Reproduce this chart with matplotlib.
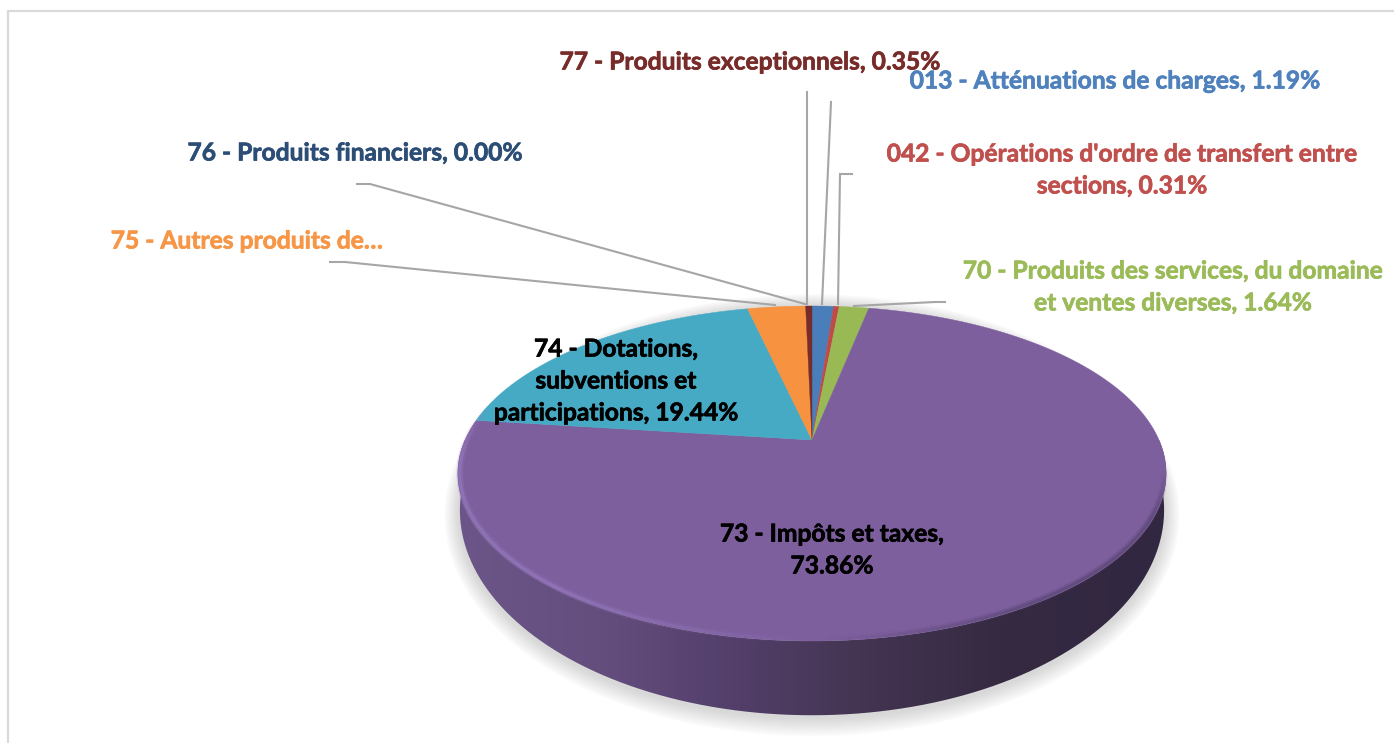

# Revenue split shown as a 3D looking pie chart (tilted disc with a side wall)

import matplotlib
matplotlib.use('Agg')
import matplotlib.pyplot as plt
import matplotlib.patheffects as pe
import numpy as np
from matplotlib.collections import LineCollection
from matplotlib.colors import to_rgb
from matplotlib.patches import Polygon, PathPatch
from matplotlib.path import Path

plt.rcParams['font.family'] = ['Lato', 'DejaVu Sans']

# Slices, clockwise from 12 o'clock
categories = ['013', '042', '70', '73', '74', '75', '76', '77']
values = [1.19, 0.31, 1.64, 73.86, 19.44, 3.21, 0.00, 0.35]
slice_colors = ['#4a7ebb', '#be4b48', '#98b954', '#7d5f9e', '#46aac5', '#f69240', '#2c4d75', '#772c2a']

# Labels
label_texts = [
    "013 - Atténuations de charges, 1.19%",
    "042 - Opérations d'ordre de transfert entre\nsections, 0.31%",
    "70 - Produits des services, du domaine\net ventes diverses, 1.64%",
    "73 - Impôts et taxes,\n73.86%",
    "74 - Dotations,\nsubventions et\nparticipations, 19.44%",
    "75 - Autres produits de…",
    "76 - Produits financiers, 0.00%",
    "77 - Produits exceptionnels, 0.35%",
]
label_pos = [(1115, 81), (1122, 170), (1173, 287), (832, 550), (616, 381), (247, 241), (355, 153), (750, 62)]
label_colors = ['#4f81bd', '#c0504d', '#9bbb59', 'black', 'black', '#f79646', '#2c4d75', '#772c2a']

# Leader lines
leaders = [
    [(831, 102), (822, 304)],
    [(852, 174), (840, 174), (838, 304)],
    [(945, 302), (935, 302), (854, 306)],
    [(330, 262), (345, 262), (775, 305)],
    [(357, 184), (370, 184), (805, 304)],
    [(807, 92), (807, 304)],
]

# Perspective of the disc
cx = 812
cy_top = 440
cy_bottom = 469
R_top = 347
R_bottom = 345
S_top = 160.8
S_bottom = 197
k = 0.2


def project(theta, R, S, cy):
    u = np.sin(theta)
    v = np.cos(theta)
    w = 1 + k * v
    return cx + R * u / w, cy - S * v / w


fig = plt.figure(figsize=(13.94, 7.43), dpi=100)
ax = fig.add_axes([0, 0, 1, 1])
ax.set_xlim(0, 1394)
ax.set_ylim(743, 0)
ax.axis('off')

# Chart frame
ax.plot([8, 8, 1394], [743, 11, 11], color='#d9d9d9', lw=1.6, zorder=1)

# Soft shadow under the disc
t = np.linspace(0, 2 * np.pi, 361)
for grow in np.arange(15, 0, -1.5):
    sx, sy = project(t, R_bottom + grow, S_bottom + grow, cy_bottom + 2)
    ax.fill(sx, sy, color='#8c8c8c', alpha=0.035, lw=0, zorder=2)

# Side wall with a horizontal gradient
front = np.linspace(np.pi / 2, 3 * np.pi / 2, 241)
x1, y1 = project(front, R_top, S_top, cy_top)
x2, y2 = project(front[::-1], R_bottom, S_bottom, cy_bottom)
wall = Path(np.column_stack([np.r_[x1, x2], np.r_[y1, y2]]))
stops = [457, 600, 740, 860, 1000, 1167]
stop_colors = np.array([to_rgb(c) for c in ['#6c5689', '#644e7e', '#523e69', '#443552', '#352a42', '#322740']])
xs = np.linspace(457, 1167, 355)
grad = np.stack([np.interp(xs, stops, stop_colors[:, i]) for i in range(3)], axis=-1)[None, :, :]
img = ax.imshow(grad, extent=[457, 1167, 720, 430], aspect='auto', zorder=3, interpolation='bilinear')
img.set_clip_path(PathPatch(wall, transform=ax.transData))
ax.set_xlim(0, 1394)
ax.set_ylim(743, 0)

# Top face, slices come from the values
edges = np.r_[0, np.cumsum(values)] / np.sum(values) * 2 * np.pi
for i in range(len(values)):
    if values[i] == 0:
        continue
    a = np.linspace(edges[i], edges[i + 1], max(3, int(values[i] * 8)))
    px, py = project(a, R_top, S_top, cy_top)
    pts = np.column_stack([np.r_[cx, px], np.r_[cy_top, py]])
    ax.add_patch(Polygon(pts, closed=True, facecolor=slice_colors[i], edgecolor=slice_colors[i], lw=0.3, zorder=4))

# Light bevel on the front left rim, darker soft edge on the right
rim = np.linspace(np.radians(100), np.radians(285), 240)
rx, ry = project(rim, R_top - 2, S_top - 1.5, cy_top)
rim_pts = np.column_stack([rx, ry])
segs = np.stack([rim_pts[:-1], rim_pts[1:]], axis=1)
deg = np.degrees(rim[:-1])
light = np.clip((deg - 178) / 40, 0, 1) * np.clip((282 - deg) / 18, 0, 1)
dark = np.clip((178 - deg) / 30, 0, 1) * np.clip((deg - 100) / 15, 0, 1)
for width, a_light, a_dark in [(5, 0.22, 0.22), (2.2, 0.5, 0.35)]:
    rgba = np.zeros((len(segs), 4))
    rgba[:, :3] = np.where(light[:, None] > 0, to_rgb('#9a7fc4'), to_rgb('#4a3a60'))
    rgba[:, 3] = np.maximum(light * a_light, dark * a_dark)
    ax.add_collection(LineCollection(segs, colors=rgba, linewidths=width, zorder=5))

# Leader lines
for line in leaders:
    ax.plot([p[0] for p in line], [p[1] for p in line], color='#a6a6a6', lw=1.5,
            solid_joinstyle='miter', zorder=6)

# Labels
for i in range(len(label_texts)):
    txt = ax.text(label_pos[i][0], label_pos[i][1], label_texts[i], color=label_colors[i], fontsize=17.7,
                  fontweight='bold', ha='center', va='center', linespacing=1.47, zorder=7)
    txt.set_path_effects([pe.withStroke(linewidth=0.5, foreground=label_colors[i])])

fig.savefig('out.png', dpi=100)
